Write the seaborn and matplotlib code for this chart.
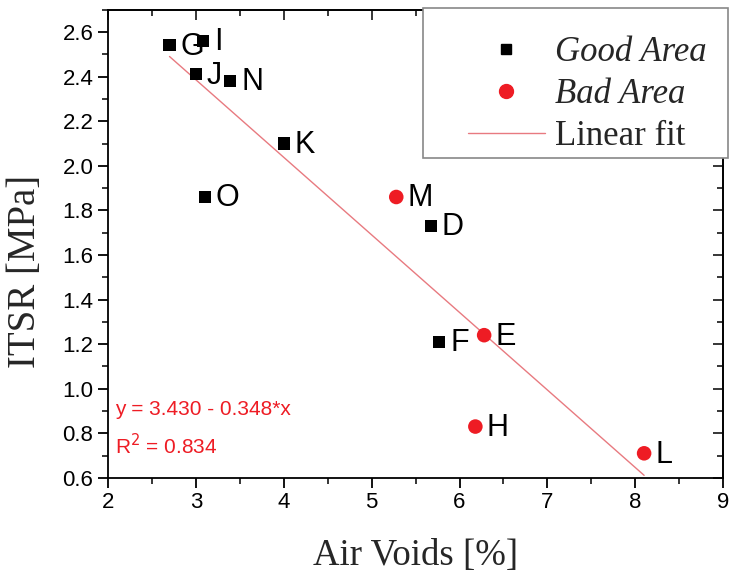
import matplotlib
matplotlib.use("Agg")
import matplotlib.pyplot as plt
import seaborn as sns
import numpy as np
import pandas as pd
from matplotlib.lines import Line2D
from matplotlib.patches import Rectangle
from matplotlib.ticker import MultipleLocator

# Data
good_labels = ["G", "I", "J", "N", "K", "O", "D", "F"]
good_x = [2.70, 3.08, 3.00, 3.39, 4.00, 3.10, 5.67, 5.77]
good_y = [2.54, 2.56, 2.41, 2.38, 2.10, 1.86, 1.73, 1.21]

bad_labels = ["M", "E", "H", "L"]
bad_x = [5.28, 6.28, 6.18, 8.10]
bad_y = [1.86, 1.24, 0.83, 0.71]

fit_intercept = 3.430
fit_slope = -0.348
fit_x = [2.70, 8.10]
r2 = 0.834

sns.set_style("white")
plt.rcParams["font.family"] = ["Liberation Sans", "DejaVu Sans"]

fig = plt.figure(figsize=(7.32, 5.75), dpi=100)
ax = fig.add_axes([0.1475, 0.169, 0.8405, 0.814])

good_df = pd.DataFrame({"x": good_x, "y": good_y, "label": good_labels})
bad_df = pd.DataFrame({"x": bad_x, "y": bad_y, "label": bad_labels})
fit_df = pd.DataFrame({"x": fit_x, "y": [fit_intercept + fit_slope * v for v in fit_x]})

fit_color = "#e87a80"
red = "#ee1c24"

sns.lineplot(data=fit_df, x="x", y="y", ax=ax, color=fit_color, linewidth=1.0, zorder=2)
sns.scatterplot(data=good_df, x="x", y="y", ax=ax, marker="s", s=75, color="black",
                edgecolor="none", zorder=3)
sns.scatterplot(data=bad_df, x="x", y="y", ax=ax, marker="o", s=110, color=red,
                edgecolor="none", zorder=3)

for df in (good_df, bad_df):
    for _, r in df.iterrows():
        ax.annotate(r["label"], (r["x"], r["y"]), xytext=(8, -1), textcoords="offset points",
                    ha="left", va="center", fontsize=22, color="black",
                    family=["Liberation Sans", "DejaVu Sans"])

ax.set_xlim(2, 9)
ax.set_ylim(0.6, 2.7)
ax.xaxis.set_major_locator(MultipleLocator(1))
ax.xaxis.set_minor_locator(MultipleLocator(0.5))
ax.yaxis.set_minor_locator(MultipleLocator(0.1))
yt = np.arange(0.6, 2.61, 0.2)
ax.set_yticks(yt)
ax.set_yticklabels([f"{v:.1f}" for v in yt])

for sp in ax.spines.values():
    sp.set_color("black")
    sp.set_linewidth(1.3)

ax.tick_params(axis="both", which="major", direction="out", length=7, width=1.3,
               labelsize=16, colors="black", bottom=True, left=True, top=False, right=False)
ax.tick_params(axis="both", which="minor", direction="out", length=4, width=1.3,
               bottom=True, left=True, top=False, right=False)

# inward ticks on top and right
sec_x = ax.secondary_xaxis("top")
sec_x.xaxis.set_major_locator(MultipleLocator(1))
sec_x.xaxis.set_minor_locator(MultipleLocator(0.5))
sec_x.tick_params(which="major", direction="in", length=7, width=1.3, labeltop=False)
sec_x.tick_params(which="minor", direction="in", length=4, width=1.3)
sec_x.spines["top"].set_linewidth(1.3)
sec_y = ax.secondary_yaxis("right")
sec_y.yaxis.set_major_locator(MultipleLocator(0.2))
sec_y.yaxis.set_minor_locator(MultipleLocator(0.1))
sec_y.tick_params(which="major", direction="in", length=7, width=1.3, labelright=False)
sec_y.tick_params(which="minor", direction="in", length=4, width=1.3)
sec_y.spines["right"].set_linewidth(1.3)

ax.set_xlabel("Air Voids [%]", fontsize=26.5, family="Liberation Serif", labelpad=18)
ax.set_ylabel("ITSR [MPa]", fontsize=28, family="Liberation Serif")
ax.yaxis.set_label_coords(-0.104, 0.44)

ax.text(2.08, 0.905, "y = 3.430 - 0.348*x", color=red, fontsize=15, ha="left", va="center")
ax.text(2.08, 0.745, "R$^2$ = 0.834", color=red, fontsize=15, ha="left", va="center")

# legend frame
ax.add_patch(Rectangle((0.512, 0.684), 1.008 - 0.512, 1.004 - 0.684, transform=ax.transAxes,
                       facecolor="white", edgecolor="#888888", linewidth=1.2,
                       clip_on=False, zorder=5))

handles = [
    Line2D([], [], linestyle="none", marker="s", markersize=7, color="black"),
    Line2D([], [], linestyle="none", marker="o", markersize=10, color=red),
    Line2D([], [], color=fit_color, linewidth=1.0),
]
leg = ax.legend(handles, ["Good Area", "Bad Area", "Linear fit"], loc="upper left",
                bbox_to_anchor=((468 - 108) / 615, (478 - 36) / 468), borderaxespad=0,
                borderpad=0, frameon=False, handlelength=2.2, handletextpad=0.3,
                labelspacing=0.26, prop={"family": "Liberation Serif", "size": 25})
leg.set_zorder(6)
for txt in leg.get_texts()[:2]:
    txt.set_style("italic")

fig.savefig("out.png", dpi=100)
